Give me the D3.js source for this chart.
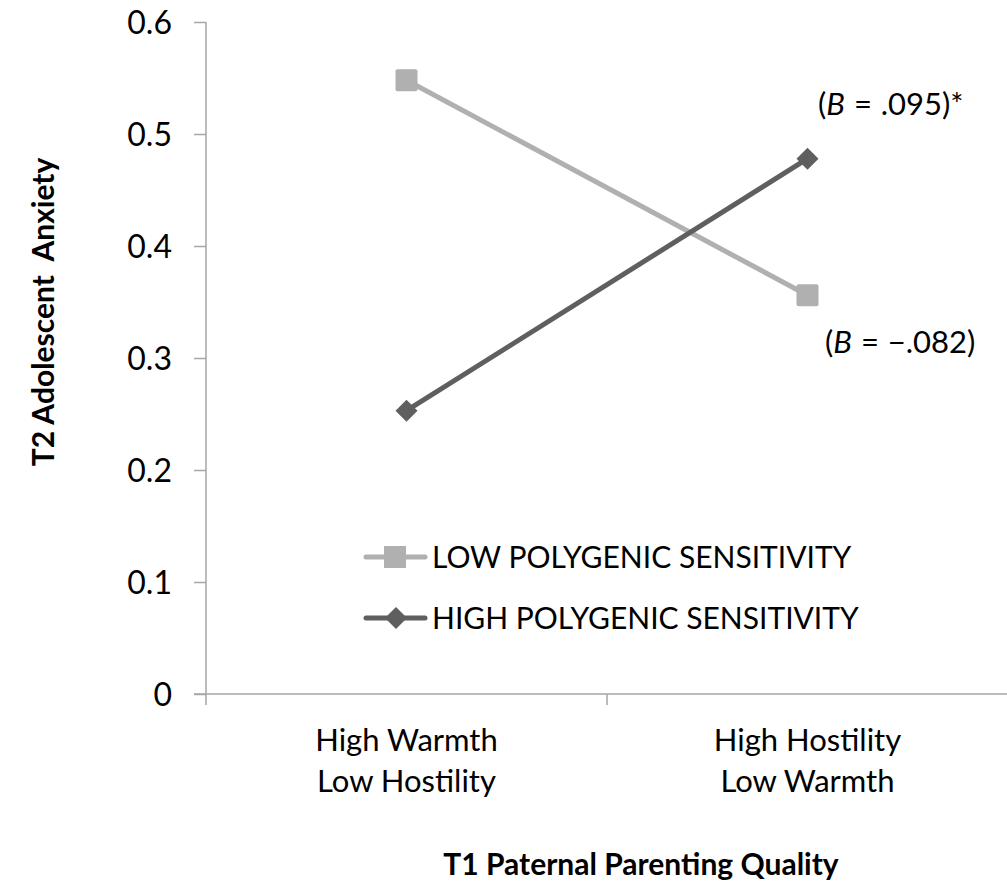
<!DOCTYPE html>
<html><head><meta charset="utf-8">
<script src="https://cdn.jsdelivr.net/npm/d3@7"></script>
<style>body{margin:0;background:#fff}svg{display:block}text{font-family:Lato,"Open Sans",sans-serif;fill:#000}</style>
</head><body>
<script>
const categories = [["High Warmth","Low Hostility"],["High Hostility","Low Warmth"]];
const lowValues = [0.548, 0.356];
const highValues = [0.253, 0.478];
const seriesNames = ["LOW POLYGENIC SENSITIVITY","HIGH POLYGENIC SENSITIVITY"];
const yTicks = [0,0.1,0.2,0.3,0.4,0.5,0.6];
const annotations = [{pre:"(",b:"B",post:" = .095)*"},{pre:"(",b:"B",post:" = \u2212.082)"}];

const W=1007,H=891;
const svg=d3.select("body").append("svg").attr("width",W).attr("height",H);
const x=d3.scaleBand().domain([0,1]).range([206,1008]);
const y=d3.scaleLinear().domain([0,0.6]).range([694,22]);
const axisColor="#a6a6a6";

const ya=svg.append("g").attr("transform","translate(206,0)")
  .call(d3.axisLeft(y).tickValues(yTicks).tickSize(12).tickPadding(22).tickFormat(d=>d===0?"0":d3.format(".1f")(d)));
ya.selectAll("path,line").attr("stroke",axisColor).attr("stroke-width",1.5);
ya.select("path").attr("d","M0,22V694");
ya.selectAll("text").attr("font-size",32).attr("dy","0.35em").style("font-family","Lato,'Open Sans',sans-serif");

const xa=svg.append("g").attr("transform","translate(0,694)")
  .call(d3.axisBottom(x).tickValues([]).tickSize(0));
xa.select("path").attr("d","M194,0H1008").attr("stroke",axisColor).attr("stroke-width",1.5);
[0,1].forEach(i=>{xa.append("line").attr("x1",x(i)).attr("x2",x(i)).attr("y1",0).attr("y2",11).attr("stroke",axisColor).attr("stroke-width",1.5);});
categories.forEach((c,i)=>{
  const t=svg.append("text").attr("x",x(i)+x.bandwidth()/2).attr("text-anchor","middle").attr("font-size",31);
  c.forEach((l,j)=>t.append("tspan").attr("x",x(i)+x.bandwidth()/2).attr("y",751+j*41).text(l));
});

const cx=i=>x(i)+x.bandwidth()/2;
const line=d3.line().x((d,i)=>cx(i)).y(d=>y(d));
const lowColor="#b0b0b0",highColor="#5f5f5f";
svg.append("path").attr("d",line(lowValues)).attr("stroke",lowColor).attr("stroke-width",5).attr("fill","none");
svg.append("path").attr("d",line(highValues)).attr("stroke",highColor).attr("stroke-width",5).attr("fill","none");
lowValues.forEach((v,i)=>svg.append("rect").attr("x",cx(i)-11).attr("y",y(v)-11).attr("width",22).attr("height",22).attr("rx",2).attr("fill",lowColor));
highValues.forEach((v,i)=>svg.append("path").attr("transform",`translate(${cx(i)},${y(v)})`).attr("d","M0,-11L11,0L0,11L-11,0Z").attr("fill",highColor));

// legend
const lg=[{c:lowColor,m:"sq",y:557},{c:highColor,m:"di",y:618}];
lg.forEach((l,k)=>{
  svg.append("line").attr("x1",366).attr("x2",425).attr("y1",l.y).attr("y2",l.y).attr("stroke",l.c).attr("stroke-width",5).attr("stroke-linecap","round");
  if(l.m==="sq") svg.append("rect").attr("x",384).attr("y",l.y-11).attr("width",22).attr("height",22).attr("fill",l.c);
  else svg.append("path").attr("transform",`translate(396,${l.y})`).attr("d","M0,-11L11,0L0,11L-11,0Z").attr("fill",l.c);
  svg.append("text").attr("x",432).attr("y",l.y+11).attr("font-size",30).text(seriesNames[k]);
});

// annotations
const annPos=[{x:818,y:115},{x:825,y:353}];
annotations.forEach((a,k)=>{
  const t=svg.append("text").attr("x",annPos[k].x).attr("y",annPos[k].y).attr("font-size",31).attr("word-spacing",1);
  t.append("tspan").text(a.pre);
  t.append("tspan").attr("font-style","italic").text(a.b);
  t.append("tspan").text(a.post);
});

svg.append("text").attr("transform","translate(54,312) rotate(-90)").attr("text-anchor","middle").attr("font-size",30).attr("font-weight","bold").attr("xml:space","preserve").text("T2 Adolescent  Anxiety");
svg.append("text").attr("x",641).attr("y",875).attr("text-anchor","middle").attr("font-size",30).attr("font-weight","bold").text("T1 Paternal Parenting Quality");
</script>
</body></html>
